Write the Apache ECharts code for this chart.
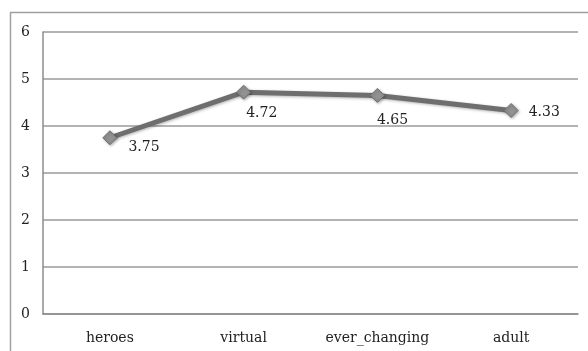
<!DOCTYPE html>
<html>
<head>
<meta charset="utf-8">
<style>
  html, body { margin: 0; padding: 0; background: #fff; }
  #chart { width: 588px; height: 351px; }
</style>
<script src="https://cdn.jsdelivr.net/npm/echarts@6/dist/echarts.min.js"></script>
</head>
<body>
<div id="chart"></div>
<script>
// Mean scores per category
const categories = ['heroes', 'virtual', 'ever_changing', 'adult'];
const scores = [3.75, 4.72, 4.65, 4.33];
const yTicks = { min: 0, max: 6, interval: 1 };

// Value-label nudges (px) so each label sits clear of the line
const labelOffsets = [[11, 10], [-5, 21], [-8, 25], [10, 2]];

const FONT = 'DejaVu Serif';

const chart = echarts.init(document.getElementById('chart'), null, { renderer: 'canvas' });
chart.setOption({
  animation: false,
  backgroundColor: '#ffffff',
  textStyle: { fontFamily: FONT },
  graphic: [{
    type: 'rect',
    left: 8, top: 10,
    shape: { width: 620, height: 400 },
    style: { fill: 'none', stroke: '#a0a0a0', lineWidth: 1.5 },
    silent: true, z: -1
  }],
  grid: { left: 43, right: 10, top: 32, bottom: 37 },
  xAxis: {
    type: 'category',
    data: categories,
    boundaryGap: true,
    axisLine: { show: true, lineStyle: { color: '#8c8c8c', width: 1.5 } },
    axisTick: { show: false },
    axisLabel: { color: '#222', fontFamily: FONT, fontSize: 14, margin: 17, interval: 0 }
  },
  yAxis: {
    type: 'value',
    min: yTicks.min, max: yTicks.max, interval: yTicks.interval,
    axisLine: { show: true, lineStyle: { color: '#8c8c8c', width: 1.5 } },
    axisTick: { show: false },
    axisLabel: { color: '#222', fontFamily: FONT, fontSize: 14, margin: 13 },
    splitLine: { show: true, lineStyle: { color: '#9a9a9a', width: 1.5 } }
  },
  series: [{
    type: 'line',
    data: scores.map((v, i) => ({
      value: v,
      label: { offset: labelOffsets[i] }
    })),
    symbol: 'diamond',
    symbolSize: 14,
    lineStyle: {
      color: '#6e6e6e', width: 5,
      shadowColor: 'rgba(0,0,0,0.3)', shadowBlur: 3, shadowOffsetX: 1, shadowOffsetY: 1
    },
    itemStyle: {
      color: '#929292', borderColor: '#707070', borderWidth: 1,
      shadowColor: 'rgba(0,0,0,0.3)', shadowBlur: 3, shadowOffsetX: 1, shadowOffsetY: 1
    },
    label: {
      show: true,
      position: 'right',
      distance: 0,
      color: '#222',
      fontFamily: FONT,
      fontSize: 14,
      formatter: p => p.value.toFixed(2)
    }
  }]
});
</script>
</body>
</html>
